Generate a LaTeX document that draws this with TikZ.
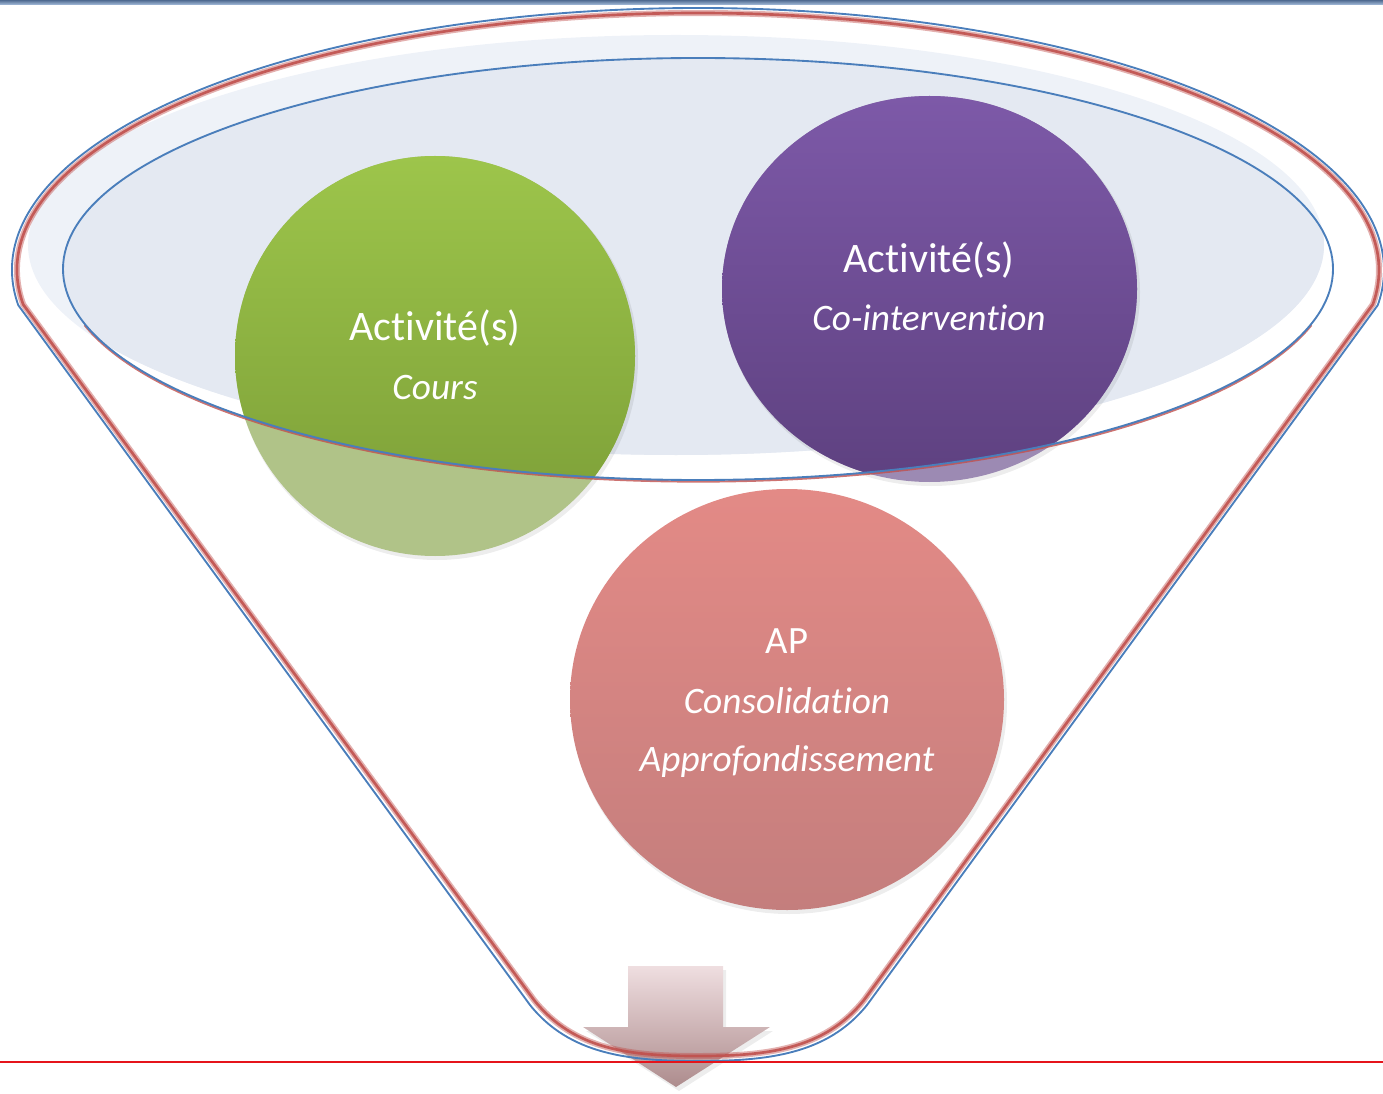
\documentclass[tikz,border=0pt]{standalone}
\usepackage{fontspec}
\newfontfamily\carl[Ligatures=NoCommon]{Carlito}
\definecolor{topA}{HTML}{4F6A90}
\definecolor{topB}{HTML}{A9C0DE}
\definecolor{paleF}{HTML}{EEF2F8}
\definecolor{innerF}{HTML}{E4E9F2}
\definecolor{funblue}{HTML}{4A7EBB}
\definecolor{funred}{HTML}{C0504D}
\definecolor{gTop}{HTML}{9DC54B}
\definecolor{gBot}{HTML}{7A9C36}
\definecolor{gLight}{HTML}{B0C388}
\definecolor{pTop}{HTML}{7D59A8}
\definecolor{pBot}{HTML}{5E4180}
\definecolor{pLight}{HTML}{9C8AB3}
\definecolor{rTop}{HTML}{E38A86}
\definecolor{rBot}{HTML}{C47E7D}
\definecolor{aTop}{HTML}{EFDEE0}
\definecolor{aBot}{HTML}{AD8C8D}
\definecolor{baseRed}{HTML}{E5141B}
\tikzset{
  bigtxt/.style={anchor=base,text=white,inner sep=0pt,font=\carl\fontsize{31.5}{36}\selectfont},
  ittxt/.style={anchor=base,text=white,inner sep=0pt,font=\carl\itshape\fontsize{28}{32}\selectfont},
  blueline/.style={draw=funblue,line width=1.4},
  redglow/.style={draw=funred,line width=4.5,opacity=0.45},
  redcore/.style={draw=funred,line width=2,opacity=0.9},
  shad/.style={fill=black,opacity=0.07}
}
\begin{document}
\begin{tikzpicture}[x=0.75pt,y=-0.75pt]
\useasboundingbox (0,0) rectangle (1383,1094);
% top bar
\shade[top color=topA,bottom color=topB] (0,0) rectangle (1383,5);
% rim fills
\fill[paleF] (676,245) ellipse [x radius=648,y radius=210];
\begin{scope}
  \clip (676,245) ellipse [x radius=648,y radius=210];
  \fill[innerF] (698,269) ellipse [x radius=635,y radius=211];
\end{scope}
% bottom arrow
\fill[shad] (631,970) -- (726,970) -- (726,1031) -- (773,1031) -- (679,1091) -- (586,1031) -- (631,1031) -- cycle;
\shade[top color=aTop,bottom color=aBot]
  (628,966) -- (723,966) -- (723,1027) -- (770,1027) -- (676,1087) -- (583,1027) -- (628,1027) -- cycle;
% funnel outline: red glow then blue
\path[redglow] (698,270) ++(172.3:681 and 257)
  arc[start angle=172.3,end angle=367.7,x radius=681,y radius=257]
  -- (864,1000) .. controls (824,1050) and (766,1056) .. (698,1056)
  .. controls (630,1056) and (574,1050) .. (534,1000) -- cycle;
\path[redcore] (698,270) ++(172.3:681 and 257)
  arc[start angle=172.3,end angle=367.7,x radius=681,y radius=257]
  -- (864,1000) .. controls (824,1050) and (766,1056) .. (698,1056)
  .. controls (630,1056) and (574,1050) .. (534,1000) -- cycle;
\path[blueline] (698,270) ++(172.3:686 and 262)
  arc[start angle=172.3,end angle=367.7,x radius=686,y radius=262]
  -- (867,1005) .. controls (827,1055) and (766,1061) .. (698,1061)
  .. controls (630,1061) and (570,1055) .. (530,1005) -- cycle;
% circles, faint part outside the rim
\fill[shad] (437,359) ellipse [x radius=201,y radius=201];
\fill[shad] (931.5,292) ellipse [x radius=208.5,y radius=194];
\fill[gLight] (435,356) ellipse [x radius=200,y radius=200];
\fill[pLight] (929.5,289) ellipse [x radius=207.5,y radius=193];
\begin{scope}
  \clip (698,269) ellipse [x radius=635,y radius=211];
  \shade[top color=gTop,bottom color=gBot] (435,356) ellipse [x radius=200,y radius=200];
  \shade[top color=pTop,bottom color=pBot] (929.5,289) ellipse [x radius=207.5,y radius=193];
\end{scope}
% inner rim outline
\draw[funred,line width=1.6,opacity=0.8] (698,270.5) ++(15:635 and 211)
  arc[start angle=15,end angle=165,x radius=635,y radius=211];
\path[blueline] (698,269) ellipse [x radius=635,y radius=211];
% lower circle
\fill[shad] (789,702.5) ellipse [x radius=218,y radius=211.5];
\shade[top color=rTop,bottom color=rBot] (787,699.5) ellipse [x radius=217,y radius=210.5];
% texts
\node[bigtxt] (g1) at (435,341) {Activité(s)};
\node[ittxt] (g2) at (435,399) {Cours};
\node[bigtxt] (p1) at (929,273) {Activité(s)};
\node[ittxt] (p2) at (929,331) {Co-intervention};
\node[bigtxt,font=\carl\fontsize{29}{34}\selectfont] (r1) at (787,653) {AP};
\node[ittxt] (r2) at (787,713) {Consolidation};
\node[ittxt] (r3) at (787,771) {Approfondissement};
% base red line
\draw[baseRed,line width=1.5] (0,1062) -- (1383,1062);
\end{tikzpicture}
\end{document}
